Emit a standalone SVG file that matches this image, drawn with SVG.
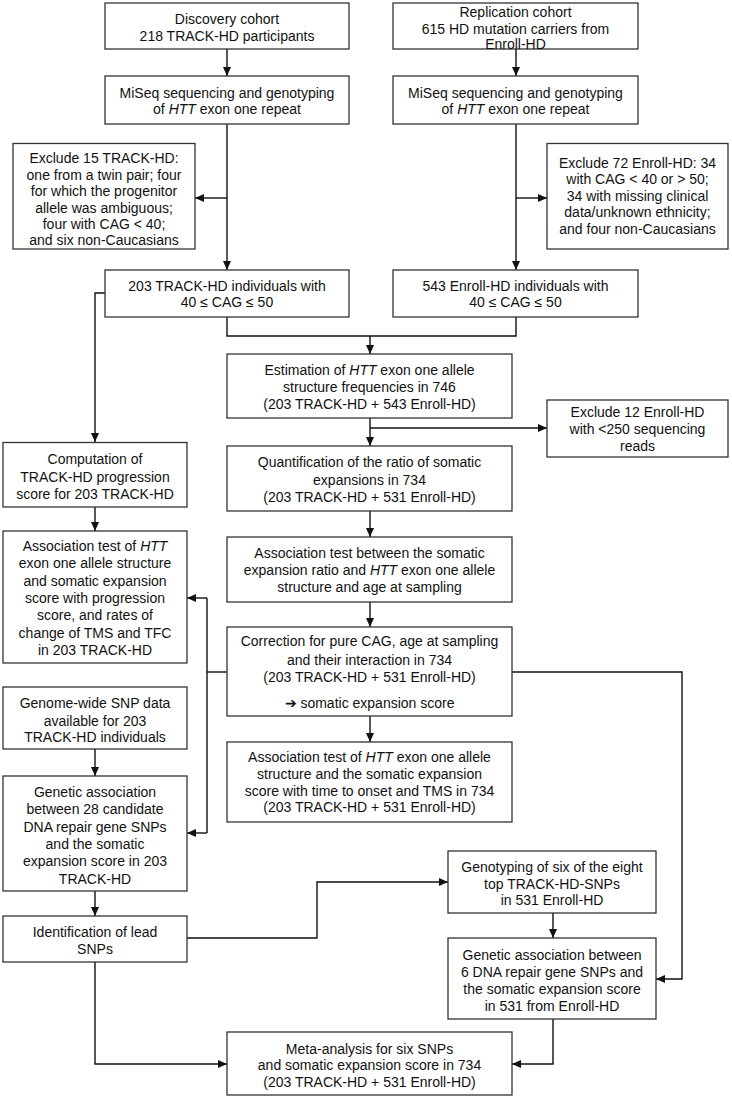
<svg xmlns="http://www.w3.org/2000/svg" width="732" height="1100" viewBox="0 0 732 1100">
<style>
rect{fill:#fff;stroke:#333;stroke-width:1.3}
text{font-family:"Liberation Sans",Arial,sans-serif;font-size:14px;fill:#111;text-anchor:middle}
.i{font-style:italic}
#connectors path{fill:none;stroke:#111;stroke-width:1.4}
</style>
<defs>
<marker id="a" markerUnits="userSpaceOnUse" markerWidth="10" markerHeight="9" refX="9" refY="4" orient="auto">
<path d="M0,0 L9,4 L0,8 z" fill="#111"/>
</marker>
</defs>
<rect width="732" height="1100" style="fill:#fff;stroke:none"/>
<g id="connectors">
<path d="M227,49 V76" marker-end="url(#a)"/>
<path d="M227,124 V270" marker-end="url(#a)"/>
<path d="M227,198 H195" marker-end="url(#a)"/>
<path d="M516,49 V76" marker-end="url(#a)"/>
<path d="M516,124 V270" marker-end="url(#a)"/>
<path d="M516,198 H547" marker-end="url(#a)"/>
<path d="M227,317 V336 H516 V317"/>
<path d="M370,336 V354" marker-end="url(#a)"/>
<path d="M105,293 H95 V442" marker-end="url(#a)"/>
<path d="M370,418 V446" marker-end="url(#a)"/>
<path d="M370,428 H547" marker-end="url(#a)"/>
<path d="M370,511 V537" marker-end="url(#a)"/>
<path d="M370,602 V627" marker-end="url(#a)"/>
<path d="M370,716 V742" marker-end="url(#a)"/>
<path d="M227,672 H207"/>
<path d="M207,598 V833"/>
<path d="M207,598 H187" marker-end="url(#a)"/>
<path d="M207,833 H187" marker-end="url(#a)"/>
<path d="M512,672 H682 V979 H656" marker-end="url(#a)"/>
<path d="M95,507 V531" marker-end="url(#a)"/>
<path d="M95,749 V776" marker-end="url(#a)"/>
<path d="M95,891 V916" marker-end="url(#a)"/>
<path d="M187,938 H317 V882 H448" marker-end="url(#a)"/>
<path d="M553,913 V938" marker-end="url(#a)"/>
<path d="M553,1019 V1064 H512" marker-end="url(#a)"/>
<path d="M95,962 V1064 H227" marker-end="url(#a)"/>
</g>
<g id="discovery">
<rect x="105" y="3" width="244" height="46"/>
<text x="227" y="24">Discovery cohort</text>
<text x="227" y="41">218 TRACK-HD participants</text>
</g>
<g id="miseq-left">
<rect x="105" y="76" width="244" height="48"/>
<text x="227" y="97.5">MiSeq sequencing and genotyping</text>
<text x="227" y="114">of <tspan class="i">HTT</tspan> exon one repeat</text>
</g>
<g id="exclude15">
<rect x="13" y="143.5" width="182" height="105.5"/>
<text x="104" y="163">Exclude 15 TRACK-HD:</text>
<text x="104" y="179.5">one from a twin pair; four</text>
<text x="104" y="196">for which the progenitor</text>
<text x="104" y="212.5">allele was ambiguous;</text>
<text x="104" y="229">four with CAG &lt; 40;</text>
<text x="104" y="245">and six non-Caucasians</text>
</g>
<g id="track203">
<rect x="105" y="270" width="244" height="47"/>
<text x="227" y="290.5">203 TRACK-HD individuals with</text>
<text x="227" y="307">40 ≤ CAG ≤ 50</text>
</g>
<g id="replication">
<rect x="393" y="3" width="245" height="46"/>
<text x="515.5" y="17">Replication cohort</text>
<text x="515.5" y="33.5">615 HD mutation carriers from</text>
<text x="515.5" y="49">Enroll-HD</text>
</g>
<g id="miseq-right">
<rect x="393" y="76" width="245" height="48"/>
<text x="515.5" y="97.5">MiSeq sequencing and genotyping</text>
<text x="515.5" y="114">of <tspan class="i">HTT</tspan> exon one repeat</text>
</g>
<g id="exclude72">
<rect x="547" y="143.5" width="181" height="105.5"/>
<text x="637.5" y="167.5">Exclude 72 Enroll-HD: 34</text>
<text x="637.5" y="184">with CAG &lt; 40 or &gt; 50;</text>
<text x="637.5" y="200.5">34 with missing clinical</text>
<text x="637.5" y="217">data/unknown ethnicity;</text>
<text x="637.5" y="234">and four non-Caucasians</text>
</g>
<g id="enroll543">
<rect x="393" y="270" width="245" height="47"/>
<text x="515.5" y="290.5">543 Enroll-HD individuals with</text>
<text x="515.5" y="307">40 ≤ CAG ≤ 50</text>
</g>
<g id="estimation">
<rect x="227" y="354" width="285" height="64"/>
<text x="369.5" y="375">Estimation of <tspan class="i">HTT</tspan> exon one allele</text>
<text x="369.5" y="392">structure frequencies in 746</text>
<text x="369.5" y="409">(203 TRACK-HD + 543 Enroll-HD)</text>
</g>
<g id="exclude12">
<rect x="547" y="400" width="181" height="57"/>
<text x="637.5" y="417">Exclude 12 Enroll-HD</text>
<text x="637.5" y="434">with &lt;250 sequencing</text>
<text x="637.5" y="451">reads</text>
</g>
<g id="quantification">
<rect x="227" y="446" width="285" height="65"/>
<text x="369.5" y="467">Quantification of the ratio of somatic</text>
<text x="369.5" y="484.5">expansions in 734</text>
<text x="369.5" y="502">(203 TRACK-HD + 531 Enroll-HD)</text>
</g>
<g id="assoc-between">
<rect x="227" y="537" width="285" height="65"/>
<text x="369.5" y="557.5">Association test between the somatic</text>
<text x="369.5" y="575">expansion ratio and <tspan class="i">HTT</tspan> exon one allele</text>
<text x="369.5" y="592">structure and age at sampling</text>
</g>
<g id="correction">
<rect x="227" y="627" width="285" height="89"/>
<text x="369.5" y="646">Correction for pure CAG, age at sampling</text>
<text x="369.5" y="664.5">and their interaction in 734</text>
<text x="369.5" y="682">(203 TRACK-HD + 531 Enroll-HD)</text>
<text x="369.5" y="707.5">➔ somatic expansion score</text>
</g>
<g id="assoc-onset">
<rect x="227" y="742" width="285" height="80"/>
<text x="369.5" y="762">Association test of <tspan class="i">HTT</tspan> exon one allele</text>
<text x="369.5" y="778.5">structure and the somatic expansion</text>
<text x="369.5" y="795.5">score with time to onset and TMS in 734</text>
<text x="369.5" y="812">(203 TRACK-HD + 531 Enroll-HD)</text>
</g>
<g id="computation">
<rect x="3" y="442.5" width="184" height="64.5"/>
<text x="95" y="464">Computation of</text>
<text x="95" y="481.5">TRACK-HD progression</text>
<text x="95" y="499">score for 203 TRACK-HD</text>
</g>
<g id="assoc-progression">
<rect x="3" y="531" width="184" height="132"/>
<text x="95" y="551">Association test of <tspan class="i">HTT</tspan></text>
<text x="95" y="568.3">exon one allele structure</text>
<text x="95" y="585.6">and somatic expansion</text>
<text x="95" y="602.9">score with progression</text>
<text x="95" y="620.2">score, and rates of</text>
<text x="95" y="637.5">change of TMS and TFC</text>
<text x="95" y="654.5">in 203 TRACK-HD</text>
</g>
<g id="genome-wide">
<rect x="3" y="687" width="184" height="62"/>
<text x="95" y="708.3">Genome-wide SNP data</text>
<text x="95" y="725.5">available for 203</text>
<text x="95" y="742">TRACK-HD individuals</text>
</g>
<g id="genetic-28">
<rect x="3" y="776" width="184" height="115"/>
<text x="95" y="797">Genetic association</text>
<text x="95" y="814.3">between 28 candidate</text>
<text x="95" y="831.6">DNA repair gene SNPs</text>
<text x="95" y="848.9">and the somatic</text>
<text x="95" y="866.2">expansion score in 203</text>
<text x="95" y="883.5">TRACK-HD</text>
</g>
<g id="lead-snps">
<rect x="3" y="916" width="184" height="46"/>
<text x="95" y="937">Identification of lead</text>
<text x="95" y="953.5">SNPs</text>
</g>
<g id="genotyping">
<rect x="448" y="851" width="208" height="62"/>
<text x="552" y="872">Genotyping of six of the eight</text>
<text x="552" y="888.5">top TRACK-HD-SNPs</text>
<text x="552" y="905">in 531 Enroll-HD</text>
</g>
<g id="genetic-6">
<rect x="448" y="938" width="208" height="81"/>
<text x="552" y="960">Genetic association between</text>
<text x="552" y="977">6 DNA repair gene SNPs and</text>
<text x="552" y="993.5">the somatic expansion score</text>
<text x="552" y="1010.5">in 531 from Enroll-HD</text>
</g>
<g id="meta-analysis">
<rect x="227" y="1032" width="285" height="63"/>
<text x="369.5" y="1053.5">Meta-analysis for six SNPs</text>
<text x="369.5" y="1070">and somatic expansion score in 734</text>
<text x="369.5" y="1087">(203 TRACK-HD + 531 Enroll-HD)</text>
</g>
</svg>
